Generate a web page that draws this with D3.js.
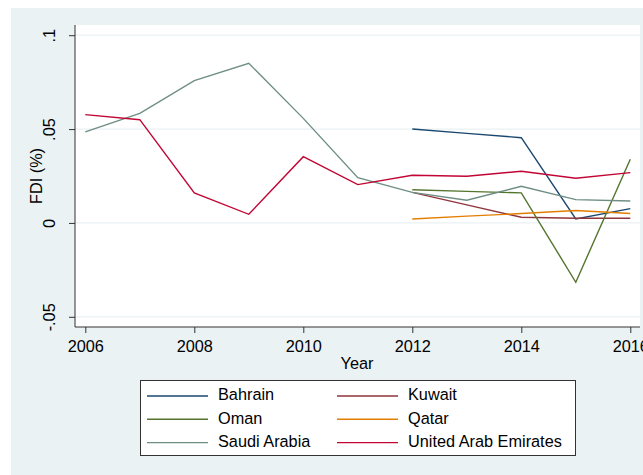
<!DOCTYPE html>
<html><head><meta charset="utf-8">
<script src="https://cdn.jsdelivr.net/npm/d3@7"></script>
<style>html,body{margin:0;padding:0;background:#fff;}svg{display:block;}</style>
</head><body>
<svg id="chart" width="643" height="475"></svg>
<script>
const years = [2006, 2007, 2008, 2009, 2010, 2011, 2012, 2013, 2014, 2015, 2016];
const xTicks = [2006, 2008, 2010, 2012, 2014, 2016];
const yTicks = [-0.05, 0, 0.05, 0.1];
const yTickLabels = ["-.05", "0", ".05", ".1"];
const countries = ["Bahrain", "Kuwait", "Oman", "Qatar", "Saudi Arabia", "United Arab Emirates"];
const colors = ["#1a476f", "#90353b", "#55752f", "#e37e00", "#6e8e84", "#c10534"];
// values per year (null = missing)
const bahrain = [null, null, null, null, null, null, 0.0500, 0.0477, 0.0454, 0.0021, 0.0076];
const kuwait  = [null, null, null, null, null, null, 0.0163, 0.0096, 0.0030, 0.0025, 0.0025];
const oman    = [null, null, null, null, null, null, 0.0177, 0.0168, 0.0160, -0.0316, 0.0339];
const qatar   = [null, null, null, null, null, null, 0.0021, 0.0036, 0.0050, 0.0066, 0.0050];
const saudi   = [0.0485, 0.0584, 0.0758, 0.0850, 0.0557, 0.0241, 0.0163, 0.0121, 0.0195, 0.0124, 0.0117];
const uae     = [0.0577, 0.0550, 0.0160, 0.0046, 0.0353, 0.0204, 0.0254, 0.0249, 0.0275, 0.0238, 0.0268];
const seriesValues = [bahrain, kuwait, oman, qatar, saudi, uae];

const svg = d3.select("#chart");
const font = "'Liberation Sans', Arial, sans-serif";
const fs = 16.3;
const bg = "#eaf2f3";

svg.append("rect").attr("x", 11).attr("y", 8).attr("width", 632).attr("height", 467).attr("fill", bg);

const plot = {left: 75, right: 640, top: 25, bottom: 327};
svg.append("rect").attr("x", plot.left).attr("y", plot.top)
  .attr("width", plot.right - plot.left).attr("height", plot.bottom - plot.top).attr("fill", "#fff");

const x = d3.scaleLinear().domain([2006, 2016]).range([85.3, 630.3]);
const y = d3.scaleLinear().domain([-0.05, 0.1]).range([316.8, 35.2]);

// grid
svg.append("g").selectAll("line").data(yTicks).join("line")
  .attr("x1", plot.left).attr("x2", plot.right)
  .attr("y1", d => y(d)).attr("y2", d => y(d))
  .attr("stroke", bg).attr("stroke-width", 1.2);

// y axis
const yAxis = d3.axisLeft(y).tickValues(yTicks).tickSize(6).tickPadding(10)
  .tickFormat((d, i) => yTickLabels[i]);
const gy = svg.append("g").attr("transform", `translate(${plot.left},0)`).call(yAxis);
gy.select(".domain").attr("d", `M0,${plot.top}V${plot.bottom}`).attr("stroke", "#333").attr("stroke-width", 1);
gy.selectAll(".tick line").attr("stroke", "#333");
gy.selectAll(".tick text")
  .attr("font-family", font).attr("font-size", fs).attr("fill", "#000")
  .attr("text-anchor", "middle").attr("dy", null).attr("x", null)
  .attr("transform", "translate(-24,0) rotate(-90)").attr("dominant-baseline", "middle");

// x axis
const xAxis = d3.axisBottom(x).tickValues(xTicks).tickSize(6).tickPadding(7).tickFormat(d3.format("d"));
const gx = svg.append("g").attr("transform", `translate(0,${plot.bottom})`).call(xAxis);
gx.select(".domain").attr("d", `M${plot.left},0H${plot.right}`).attr("stroke", "#333");
gx.selectAll(".tick line").attr("stroke", "#333");
gx.selectAll(".tick text").attr("font-family", font).attr("font-size", fs).attr("fill", "#000");

// axis titles
svg.append("text").attr("x", 357).attr("y", 365).attr("text-anchor", "middle")
  .attr("dominant-baseline", "middle").attr("font-family", font).attr("font-size", fs).text("Year");
svg.append("text").attr("transform", "translate(38,176) rotate(-90)").attr("text-anchor", "middle")
  .attr("dominant-baseline", "middle").attr("font-family", font).attr("font-size", fs).text("FDI (%)");

// lines
const line = d3.line().defined(d => d.v !== null).x(d => x(d.year)).y(d => y(d.v));
seriesValues.forEach((vals, i) => {
  const data = years.map((yr, j) => ({year: yr, v: vals[j]}));
  svg.append("path").datum(data).attr("d", line).attr("fill", "none")
    .attr("stroke", colors[i]).attr("stroke-width", 1.4);
});

// legend
const lg = svg.append("g");
lg.append("rect").attr("x", 140.5).attr("y", 380.5).attr("width", 435).attr("height", 75)
  .attr("fill", "#fff").attr("stroke", "#333").attr("stroke-width", 1);
countries.forEach((c, i) => {
  const col = i % 2, row = Math.floor(i / 2);
  const lx = col === 0 ? 147 : 337;
  const ly = 396 + row * 23.3;
  lg.append("line").attr("x1", lx).attr("x2", lx + 61).attr("y1", ly).attr("y2", ly)
    .attr("stroke", colors[i]).attr("stroke-width", 1.4);
  lg.append("text").attr("x", lx + 71).attr("y", ly).attr("dominant-baseline", "middle")
    .attr("font-family", font).attr("font-size", fs).text(c);
});
</script>
</body></html>
